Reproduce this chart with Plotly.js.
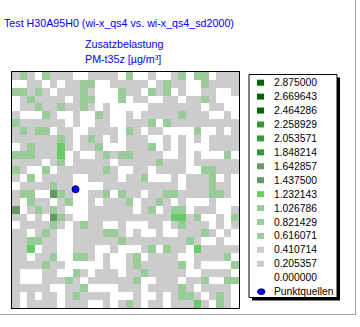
<!DOCTYPE html>
<html>
<head>
<meta charset="utf-8">
<script src="https://cdn.plot.ly/plotly-3.0.1.min.js"></script>
<style>
  html, body { margin: 0; padding: 0; background: #ffffff; }
  #chart { width: 360px; height: 327px; }
</style>
</head>
<body>
<div id="chart"></div>
<script>
// ---- DATA ----
const titleText = "Test H30A95H0 (wi-x_qs4 vs. wi-x_qs4_sd2000)";
const subTitle1 = "Zusatzbelastung";
const subTitle2 = "PM-t35z [µg/m³]";

// legend class levels (descending, as listed)
const levels = [2.875000, 2.669643, 2.464286, 2.258929, 2.053571, 1.848214, 1.642857,
                1.437500, 1.232143, 1.026786, 0.821429, 0.616071, 0.410714, 0.205357, 0.000000];
const levelColors = ["#006600", "#006600", "#006600", "#339933", "#339933", "#339933", "#669966",
                     "#669966", "#66cc66", "#99cc99", "#99cc99", "#99cc99", "#cccccc", "#cccccc", null];
const sourceLabel = "Punktquellen";

// point source location (grid units)
const sourceX = [7.9];
const sourceY = [14.4];

// grid values (rows top -> bottom, columns left -> right)
const gridZ = [
 [.3,.8,.3,0,.8,.3,.3,.3,0,0,.3,.3,.3,.3,0,.8,0,0,.3,0,0,.3,.8,0,.8,.8,0,.3,.3,.3],
 [0,0,.3,.3,0,.3,0,.3,.3,.8,.8,0,0,.3,.3,.3,.3,.3,0,.3,.8,.3,.3,0,0,.8,.3,.3,.3,.3],
 [.8,.8,.3,.8,.3,0,.3,.3,.3,.8,.3,0,0,0,.8,.3,.3,0,.8,.3,.8,0,.3,0,0,.3,.3,0,0,.3],
 [0,.3,.8,.3,.3,.3,.3,0,.3,.8,.8,0,0,0,.8,0,.3,.3,0,0,.3,.3,0,.3,.3,.8,.3,0,0,0],
 [0,.3,.3,.8,.3,.3,.8,.3,.3,.8,.3,0,.3,0,0,0,0,0,.3,.3,.3,.3,.3,.3,.3,0,.3,.3,0,0],
 [.3,0,0,0,.8,.3,0,0,.3,0,0,.8,.3,0,0,.3,0,.3,.3,.3,.3,.3,.8,.3,.3,.3,0,0,.3,0],
 [.8,.3,.3,.3,.3,.3,.3,0,.3,0,0,.3,.3,0,0,.3,.3,.3,.8,0,.8,.3,.3,.3,.3,.3,.3,.3,.3,.3],
 [.3,.8,.3,.8,.8,0,.3,.3,0,0,.3,.3,.3,.3,0,.8,.3,0,.3,.3,0,0,0,0,.8,0,0,.3,0,.3],
 [.3,.3,.3,.3,.3,.3,.8,.3,0,.3,.8,.3,0,.3,0,.3,.3,.3,0,0,.3,0,.3,0,.3,0,.3,.3,.3,.3],
 [0,.3,.8,.3,.3,.3,1.2,.3,0,.3,.3,.8,0,0,0,.3,.3,.3,.8,0,.3,0,.3,0,0,0,.3,.3,.3,.3],
 [.8,.8,.8,.3,.3,.3,1.2,0,.3,0,0,.3,.8,.3,.8,.8,.3,.3,.3,.3,0,0,.3,0,.3,0,0,0,.8,0],
 [.3,.3,.3,.3,0,.3,.8,0,.3,.3,.3,.3,.3,0,.3,.3,.3,.3,.3,.8,.3,.3,.3,0,.3,.3,.3,.3,.3,.3],
 [.8,.3,0,0,.8,0,.3,.3,.3,.3,.3,.3,.8,.3,0,0,.3,.3,0,.3,.3,.3,.3,0,0,.8,.8,.3,.3,.3],
 [.3,0,.8,0,.3,.3,.3,.3,0,0,.3,.3,.3,.3,0,.3,.3,.8,0,0,0,.3,0,.3,.3,.3,.8,0,.3,0],
 [0,.3,.3,.3,.3,.8,.3,.3,0,0,0,0,.3,.3,.3,.3,.3,.3,.3,.3,.3,.3,0,.3,.3,.3,.8,.3,.3,0],
 [.3,.8,.8,0,0,1.5,.8,.3,0,0,.3,.3,.8,0,.8,.3,.3,0,.3,.3,.8,.8,.3,.3,.3,.3,.8,.8,.3,0],
 [.3,0,.8,.3,.3,0,.3,.8,0,0,.3,0,.3,.3,.3,.8,0,.3,.3,.8,.3,0,.3,0,0,0,.3,0,0,0],
 [1.5,0,.3,.8,.3,.8,.3,0,0,0,.3,.3,.3,.3,.3,.3,0,.3,.8,0,.3,.8,.8,0,.3,.3,.3,0,0,.3],
 [.3,.3,0,.3,0,1.5,.8,.3,0,0,.3,.3,.3,.3,.3,.3,.3,.3,.3,.3,.3,1.2,1.2,.3,.8,0,0,.3,0,.8],
 [0,.3,.3,.3,.3,.8,.3,0,.3,.8,.3,.3,0,0,.3,0,0,0,.3,.3,0,.3,.8,.3,.3,.3,0,.3,0,.3],
 [.3,.3,0,.3,.8,.3,0,0,.3,.3,.3,.3,.8,.8,.3,0,.3,0,0,.3,0,0,.3,.3,.3,.8,.3,0,.3,0],
 [.3,.3,.8,.8,.3,.3,0,0,.3,.3,.3,.3,.3,.3,.8,.3,.3,.3,.3,.3,.3,.3,.3,.8,.3,0,0,.3,0,0],
 [.3,.3,1.2,0,.3,.3,0,0,.3,.3,.3,0,0,.3,0,0,0,.3,.8,0,.8,.3,.3,0,1.2,.3,.3,.3,.3,.3],
 [.3,.3,0,.3,.3,.8,0,0,.8,.8,.3,0,.3,0,0,.3,.8,0,.3,.3,.3,.3,0,0,.3,.3,.3,.3,.8,0],
 [.3,.3,.3,.3,.8,.3,.3,0,0,0,0,0,.3,0,0,.3,.8,.3,.3,.3,.3,.3,.8,0,.3,0,0,0,0,.8],
 [.3,0,0,0,.3,.3,0,0,.8,.3,0,.3,.3,.3,0,.3,.3,.8,.3,.3,.3,.3,.3,0,0,.3,.3,.3,.3,0],
 [.3,0,0,0,.3,.3,.3,.8,.3,0,.3,.3,.3,.3,.3,.3,.8,0,0,.3,.3,.3,0,.3,.3,.8,0,0,.8,.8],
 [.3,.3,.3,.3,.3,0,0,.3,.3,.8,0,0,0,0,.3,.3,.3,0,.3,.3,.3,.3,.8,.3,0,.3,.3,.3,.3,0],
 [.3,0,.3,0,.3,.3,0,.3,.8,.3,.3,.3,.3,0,0,0,.3,0,0,.3,0,.3,.8,.8,.3,0,.3,.8,.3,0],
 [.3,0,.3,.3,.3,.3,0,.3,.3,.3,0,0,.3,0,.3,.8,.3,0,.3,.3,0,.3,.3,.3,1.2,.3,0,.8,.3,0]
];

// ---- BUILD ----
const W = 360, H = 327;
const M = {l: 12, r: 121, t: 72, b: 19};
const PW = W - M.l - M.r, PH = H - M.t - M.b;
const px = x => (x - M.l) / PW;
const py = y => 1 - (y - M.t) / PH;

// stepped colour scale from the class levels
const asc = levels.slice().reverse();
const ascCol = levelColors.slice().reverse();
const zmax = asc[asc.length - 1];
const colorscale = [];
const whiteTop = 0.01 / zmax;
colorscale.push([0, "#ffffff"], [whiteTop, "#ffffff"]);
for (let k = 1; k < asc.length; k++) {
  const lo = k === 1 ? whiteTop : asc[k - 1] / zmax;
  const hi = asc[k] / zmax;
  colorscale.push([lo, ascCol[k]], [hi, ascCol[k]]);
}

const nCols = gridZ[0].length, nRows = gridZ.length;
const colIdx = Array.from({length: nCols}, (_, i) => i);
const rowIdx = Array.from({length: nRows}, (_, i) => i);

const traces = [
  {
    type: "heatmap", z: gridZ, x: colIdx, y: rowIdx,
    zmin: 0, zmax: zmax, colorscale: colorscale,
    showscale: false, hoverinfo: "skip", zsmooth: false
  },
  {
    type: "scatter", mode: "markers", x: sourceX, y: sourceY,
    marker: {color: "#0000ff", size: 7, line: {color: "#000066", width: 1}},
    hoverinfo: "skip", showlegend: false
  }
];

const shapes = [];
const annotations = [];
const blue = "#0000ff";
const fontFam = "Arial, 'Liberation Sans', sans-serif";

// titles
annotations.push({xref: "paper", yref: "paper", x: px(2), y: py(22.5), xanchor: "left", yanchor: "middle",
  text: titleText, showarrow: false, font: {family: fontFam, size: 10.7, color: blue}});
annotations.push({xref: "paper", yref: "paper", x: px(83), y: py(44), xanchor: "left", yanchor: "middle",
  text: subTitle1, showarrow: false, font: {family: fontFam, size: 10.7, color: blue}});
annotations.push({xref: "paper", yref: "paper", x: px(83), y: py(58.5), xanchor: "left", yanchor: "middle",
  text: subTitle2, showarrow: false, font: {family: fontFam, size: 10.7, color: blue}});

// outer frame (bottom / right)
shapes.push({type: "line", xref: "paper", yref: "paper", x0: px(0), x1: px(355.5), y0: py(314.5), y1: py(314.5),
  line: {color: "#a0a0a0", width: 1}});
shapes.push({type: "line", xref: "paper", yref: "paper", x0: px(355.5), x1: px(355.5), y0: py(0), y1: py(314.5),
  line: {color: "#a0a0a0", width: 1}});

// legend box with shadow
const LB = {x0: 249, x1: 337, y0: 74.5, y1: 297.5};
shapes.push({type: "rect", xref: "paper", yref: "paper", x0: px(LB.x0 + 3), x1: px(LB.x1 + 3),
  y0: py(LB.y0 + 3), y1: py(LB.y1 + 3), fillcolor: "#000000", line: {width: 0}});
shapes.push({type: "rect", xref: "paper", yref: "paper", x0: px(LB.x0), x1: px(LB.x1),
  y0: py(LB.y0), y1: py(LB.y1), fillcolor: "#ffffff", line: {color: "#000000", width: 1}});

const itemY0 = 82.7, itemDY = 13.93;
const legFont = {family: fontFam, size: 10.3, color: "#000000"};
levels.forEach((lv, i) => {
  const yc = itemY0 + i * itemDY;
  if (levelColors[i]) {
    shapes.push({type: "rect", xref: "paper", yref: "paper", x0: px(257), x1: px(264),
      y0: py(yc - 3), y1: py(yc + 3), fillcolor: levelColors[i], line: {width: 0}});
  }
  annotations.push({xref: "paper", yref: "paper", x: px(271.5), y: py(yc), xanchor: "left", yanchor: "middle",
    text: lv.toFixed(6), showarrow: false, font: legFont});
});
{
  const yc = itemY0 + levels.length * itemDY;
  shapes.push({type: "circle", xref: "paper", yref: "paper", x0: px(257.5), x1: px(265),
    y0: py(yc - 2.8), y1: py(yc + 2.8), fillcolor: "#0000ff", line: {color: "#000066", width: 1}});
  annotations.push({xref: "paper", yref: "paper", x: px(271.5), y: py(yc), xanchor: "left", yanchor: "middle",
    text: sourceLabel, showarrow: false, font: legFont});
}

const axisCommon = {showticklabels: false, showgrid: false, zeroline: false, ticks: "",
  showline: true, mirror: true, linecolor: "#000000", linewidth: 1, fixedrange: true};

const layout = {
  width: W, height: H, margin: M,
  paper_bgcolor: "#ffffff", plot_bgcolor: "#ffffff",
  showlegend: false,
  xaxis: Object.assign({range: [-0.5, nCols - 0.5]}, axisCommon),
  yaxis: Object.assign({range: [nRows - 0.5, -0.5]}, axisCommon),
  shapes: shapes, annotations: annotations,
  font: {family: fontFam}
};

Plotly.newPlot("chart", traces, layout, {staticPlot: true, displayModeBar: false});
</script>
</body>
</html>
